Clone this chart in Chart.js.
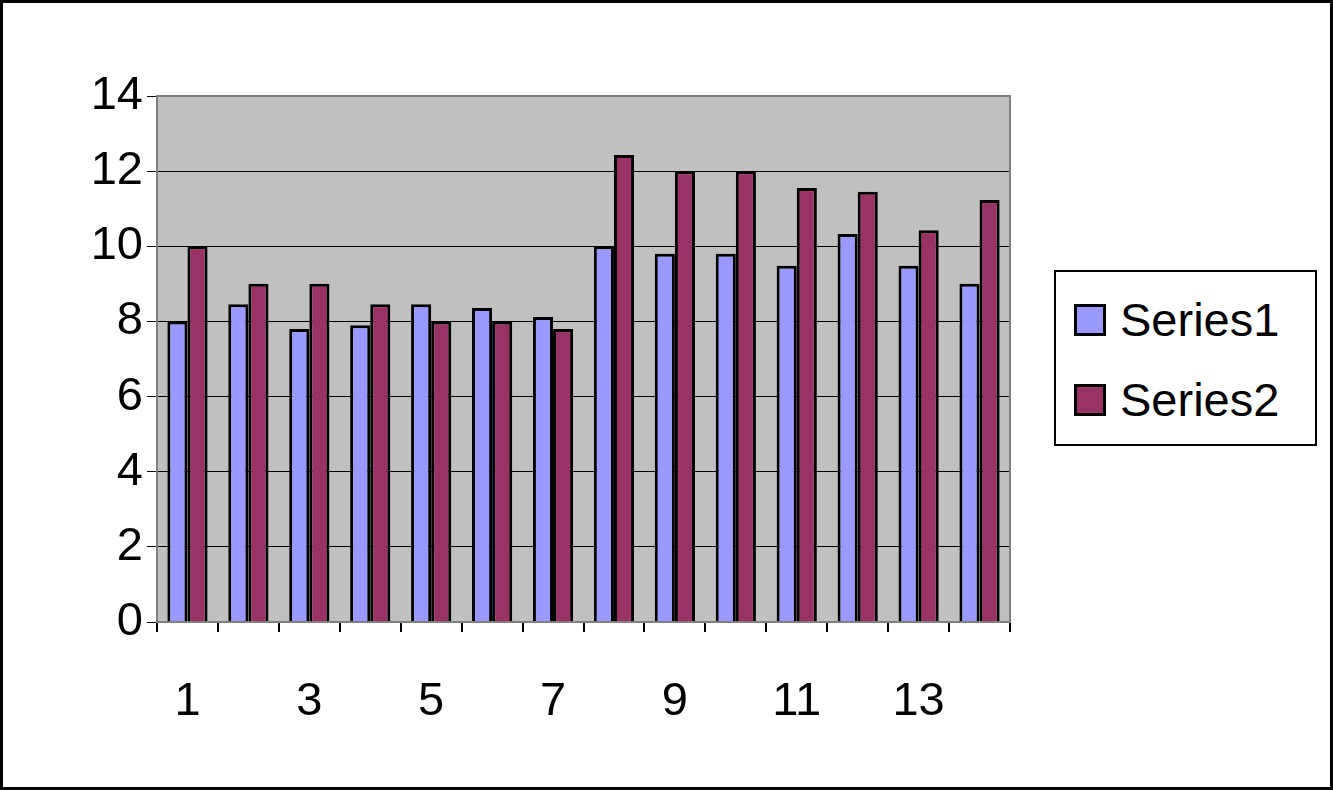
<!DOCTYPE html>
<html><head><meta charset="utf-8">
<script src="https://cdn.jsdelivr.net/npm/chart.js@4"></script>
<style>
html,body{margin:0;padding:0;background:#fff;}
#wrap{position:relative;width:1333px;height:790px;box-sizing:border-box;border:3px solid #000;}
canvas{position:absolute;left:-3px;top:-3px;}
#legend{position:absolute;left:1051px;top:267px;width:259px;height:172px;border:2px solid #000;background:#fff;font-family:"Liberation Sans",Arial,sans-serif;font-size:47px;}
.item{position:absolute;left:18px;display:flex;align-items:center;}
.sw{width:26px;height:26px;border:3px solid #000;margin-right:14px;}
</style></head>
<body>
<div id="wrap">
<canvas id="c" width="1333" height="790"></canvas>
<div id="legend">
 <div class="item" style="top:20px"><span class="sw" style="background:#9999FF"></span>Series1</div>
 <div class="item" style="top:100px"><span class="sw" style="background:#993366"></span>Series2</div>
</div>
</div>
<script>
// categories and values
const categories = ['1','2','3','4','5','6','7','8','9','10','11','12','13','14'];
const series1 = [8, 8.46, 7.8, 7.9, 8.46, 8.36, 8.12, 10, 9.8, 9.8, 9.48, 10.33, 9.48, 9.0];
const series2 = [10, 9.0, 9.0, 8.46, 8.0, 8.0, 7.8, 12.43, 12.0, 12.0, 11.55, 11.45, 10.43, 11.23];

// gray plot area with frame
const plotArea = {
    id: 'plotArea',
    beforeDraw(chart) {
        const a = chart.chartArea, ctx = chart.ctx;
        ctx.save();
        ctx.fillStyle = '#C0C0C0';
        ctx.fillRect(a.left, a.top, a.right - a.left, a.bottom - a.top);
        ctx.restore();
    },
    afterDatasetsDraw(chart) {
        const a = chart.chartArea, ctx = chart.ctx;
        ctx.save();
        ctx.strokeStyle = '#808080';
        ctx.lineWidth = 2;
        ctx.strokeRect(a.left, a.top, a.right - a.left, a.bottom - a.top);
        ctx.restore();
    }
};

const font = {family: '"Liberation Sans", Arial, sans-serif', size: 47};
new Chart(document.getElementById('c'), {
    type: 'bar',
    data: {
        labels: categories,
        datasets: [
            {label: 'Series1', data: series1, backgroundColor: '#9999FF', borderColor: '#000', borderWidth: 3},
            {label: 'Series2', data: series2, backgroundColor: '#993366', borderColor: '#000', borderWidth: 3}
        ]
    },
    options: {
        responsive: false,
        animation: false,
        layout: {padding: {left: 0, top: 96, right: 323, bottom: 0}},
        plugins: {legend: {display: false}, tooltip: {enabled: false}},
        datasets: {bar: {categoryPercentage: 0.66, barPercentage: 1}},
        scales: {
            x: {
                afterFit(s) { s.height = 168; },
                grid: {offset: true, drawOnChartArea: false, color: '#000', lineWidth: 2, tickLength: 10},
                border: {color: '#000', width: 2},
                ticks: {font, color: '#000', padding: 42, maxRotation: 0, autoSkip: false,
                    callback: (v, i) => i % 2 === 0 ? categories[i] : ''}
            },
            y: {
                min: 0, max: 14,
                afterFit(s) { s.width = 157; },
                grid: {color: '#000', lineWidth: 1, tickLength: 10},
                border: {color: '#000', width: 2},
                ticks: {font, color: '#000', stepSize: 2, padding: 4}
            }
        }
    },
    plugins: [plotArea]
});
</script>
</body></html>
